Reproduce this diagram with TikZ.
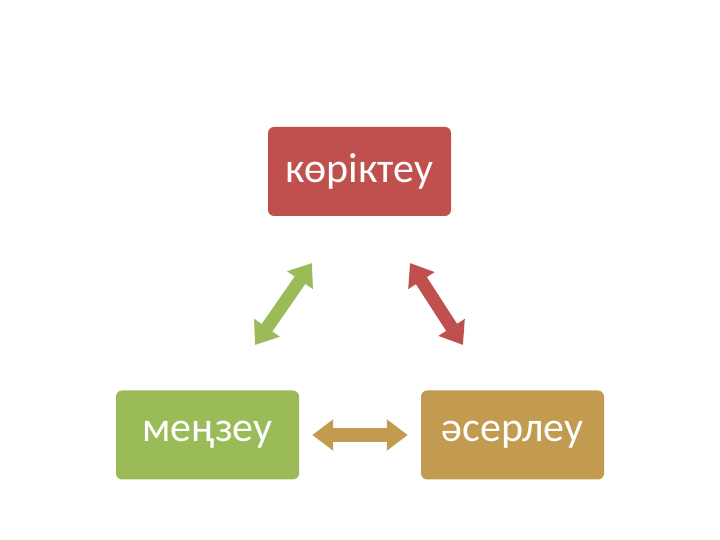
\documentclass[tikz,border=0pt]{standalone}
\usepackage{fontspec}
\setmainfont{Carlito}
\usetikzlibrary{arrows.meta}

\definecolor{redbox}{RGB}{192,80,77}
\definecolor{greenbox}{RGB}{155,187,89}
\definecolor{tanbox}{RGB}{194,155,80}

\tikzset{
  stagebox/.style={fill=#1, rounded corners=6pt, minimum width=183pt,
    minimum height=89pt, inner sep=0pt, text=white, font=\fontsize{42}{44}\selectfont},
  link/.style={draw=#1, line width=13pt,
    {Triangle[length=21pt,width=30pt]}-{Triangle[length=21pt,width=30pt]}}
}

\begin{document}
\begin{tikzpicture}[x=1pt, y=1pt]
    % page frame
    \useasboundingbox (0,0) rectangle (720,540);

    % the three boxes
    \node[stagebox=redbox] (top) at (359.5,368.5) {көріктеу};
    \node[stagebox=greenbox] (lft) at (207.5,105) {меңзеу};
    \node[stagebox=tanbox] (rgt) at (512.5,105) {әсерлеу};

    % arrow ends
    \coordinate (gA) at (255,195);
    \coordinate (gB) at (312,277);
    \coordinate (rA) at (410,277);
    \coordinate (rB) at (463,195);

    % double arrows
    \draw[link=greenbox] (gA) -- (gB);
    \draw[link=redbox] (rA) -- (rB);
    \draw[link=tanbox, line width=14pt, shorten <=13pt, shorten >=13pt] (lft) -- (rgt);
\end{tikzpicture}
\end{document}
